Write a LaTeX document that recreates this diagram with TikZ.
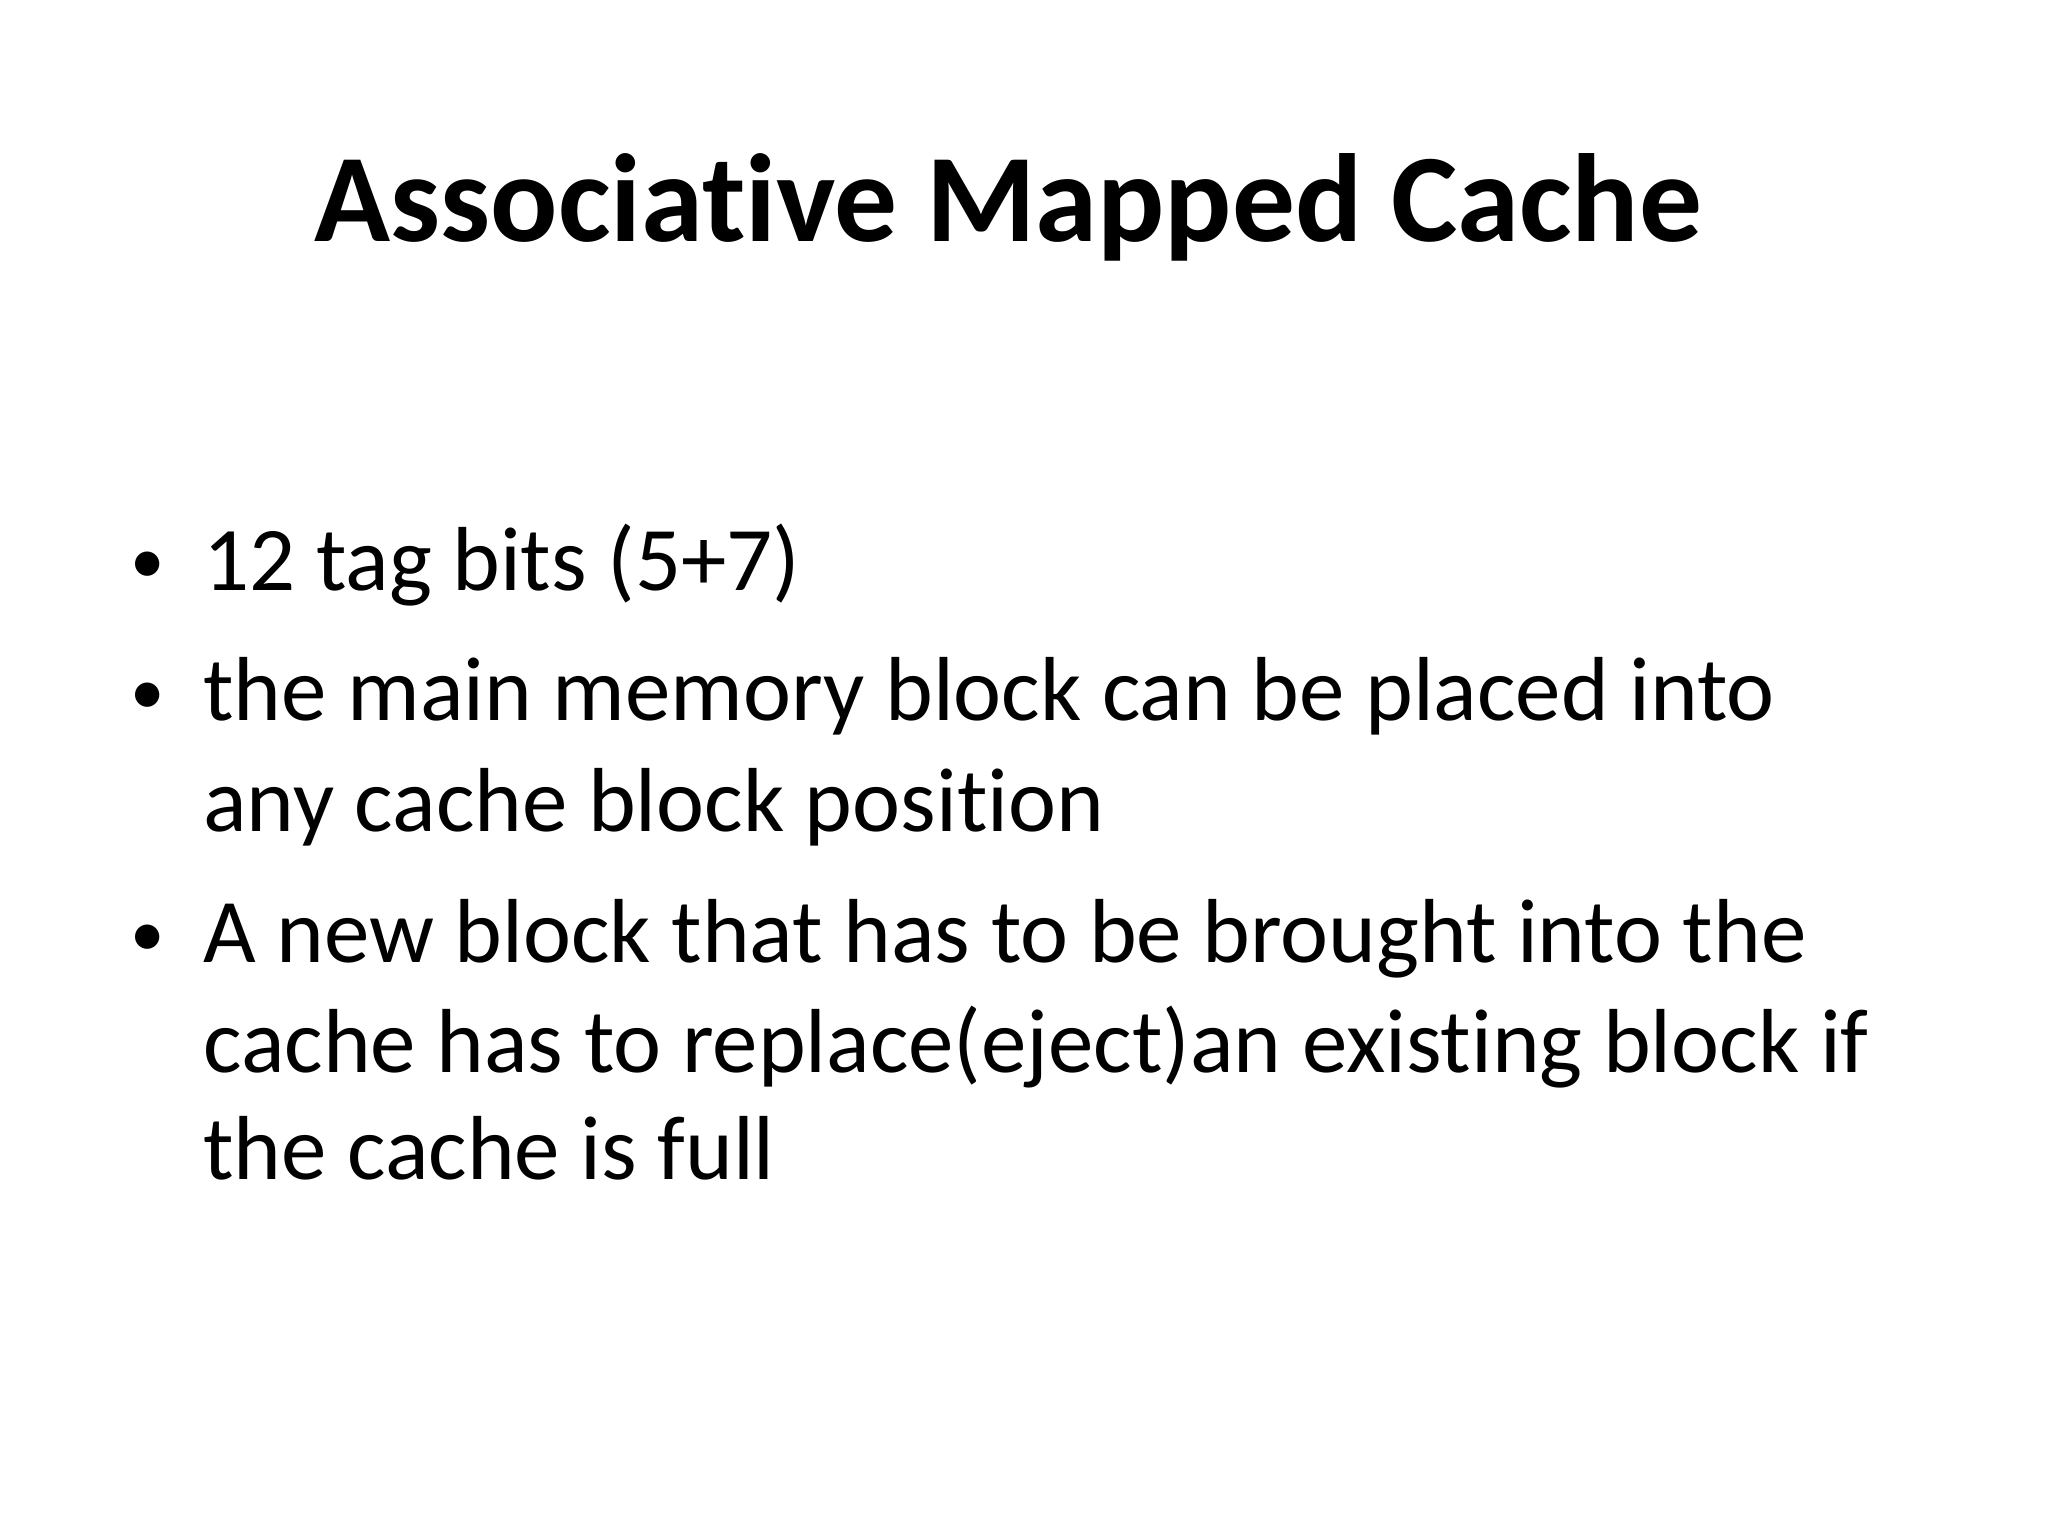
\documentclass[tikz,border=0pt]{standalone}
\usepackage{fontspec}
\setmainfont{Carlito}[Ligatures={NoCommon,NoRare,NoContextual}]
\begin{document}
\begin{tikzpicture}[x=0.01cm,y=-0.01cm,
  body/.style={anchor=base west,inner sep=0pt,font=\fontsize{19.8pt}{24pt}\selectfont},
  bul/.style={anchor=base,inner sep=0pt,font=\fontsize{15pt}{18pt}\selectfont}]
\useasboundingbox (0,0) rectangle (1568,1176);
\node[anchor=base,inner sep=0pt,font=\fontsize{27.3pt}{32pt}\selectfont\bfseries] (title) at (772,185) {Associative Mapped Cache};
\node[bul] (b1) at (113,447) {•};
\node[body] (l1) at (155,452) {12 tag bits (5+7)};
\node[bul] (b2) at (113,547) {•};
\node[body] (l2) at (155,552) {the main memory block can be placed into};
\node[body] (l3) at (155,637) {any cache block position};
\node[bul] (b3) at (113,732) {•};
\node[body] (l4) at (155,737) {A new block that has to be brought into the};
\node[body] (l5) at (155,821) {cache has to replace(eject)an existing block if};
\node[body] (l6) at (155,903) {the cache is full};
\end{tikzpicture}
\end{document}
